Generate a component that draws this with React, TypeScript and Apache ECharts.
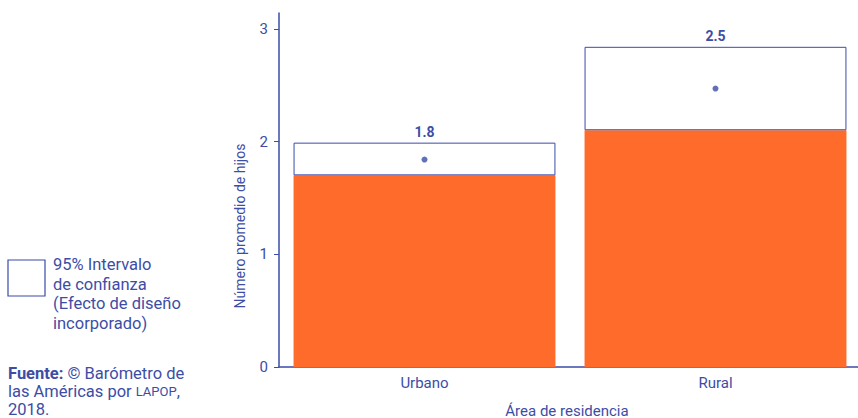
import React, { useEffect, useRef } from "react";
import * as echarts from "echarts";

const categories = ["Urbano", "Rural"];
const ciLower = [1.7, 2.1];
const ciUpper = [1.99, 2.84];
const means = [1.84, 2.47];
const meanLabels = ["1.8", "2.5"];
const yTicks = [0, 1, 2, 3];

const BLUE = "#3b4ba8";
const TEXT = "#3d4da6";
const ORANGE = "#ff6b2b";
const FONT = "Roboto";

export default function App() {
  const ref = useRef<HTMLDivElement>(null);
  useEffect(() => {
    if (!ref.current) return;
    const chart = echarts.init(ref.current, undefined, { renderer: "svg" });
    const ciSpan = ciUpper.map((u, i) => +(u - ciLower[i]).toFixed(3));
    chart.setOption({
      animation: false,
      textStyle: { fontFamily: FONT },
      grid: {
        left: 279,
        right: -3,
        top: 13,
        bottom: 51,
        containLabel: false,
        outerBoundsMode: "none",
      },
      xAxis: {
        type: "category",
        data: categories,
        name: "Área de residencia",
        nameLocation: "middle",
        nameGap: 36,
        nameTextStyle: { color: TEXT, fontSize: 15, fontFamily: FONT, padding: [0, 6, 0, 0] },
        axisLine: { lineStyle: { color: BLUE, width: 1.5 } },
        axisTick: { alignWithLabel: true, length: 5, lineStyle: { color: BLUE } },
        axisLabel: { color: TEXT, fontSize: 15, margin: 8, fontFamily: FONT },
      },
      yAxis: {
        type: "value",
        min: 0,
        max: 3.14,
        interval: 1,
        splitLine: { show: false },
        axisLine: { show: true, lineStyle: { color: BLUE, width: 1.5 } },
        axisTick: { show: true, length: 5, customValues: yTicks, lineStyle: { color: BLUE } },
        axisLabel: { color: TEXT, fontSize: 15, margin: 11, customValues: yTicks, fontFamily: FONT },
      },
      series: [
        {
          type: "bar",
          stack: "ci",
          data: ciLower,
          barWidth: "90%",
          itemStyle: { color: ORANGE },
        },
        {
          type: "bar",
          stack: "ci",
          data: ciSpan,
          barWidth: "90%",
          itemStyle: { color: "#ffffff", borderColor: BLUE, borderWidth: 1 },
          label: {
            show: true,
            position: "top",
            distance: 4,
            color: TEXT,
            fontSize: 14,
            fontWeight: "bold",
            fontFamily: FONT,
            formatter: (p: any) => meanLabels[p.dataIndex],
          },
        },
        {
          type: "scatter",
          data: means,
          symbolSize: 6,
          itemStyle: { color: BLUE },
          z: 5,
        },
      ],
      graphic: [
        {
          type: "text",
          x: 240,
          y: 226,
          rotation: Math.PI / 2,
          style: {
            text: "Número promedio de hijos",
            fill: TEXT,
            fontSize: 14,
            fontFamily: FONT,
            align: "center",
            verticalAlign: "middle",
          },
        },
        {
          type: "rect",
          shape: { x: 8, y: 260, width: 37, height: 36 },
          style: { fill: "#ffffff", stroke: BLUE, lineWidth: 1.2 },
        },
        {
          type: "text",
          x: 53,
          y: 255,
          style: {
            text: "95% Intervalo\nde confianza\n(Efecto de diseño\nincorporado)",
            fill: TEXT,
            fontSize: 16.5,
            lineHeight: 19.5,
            fontFamily: FONT,
          },
        },
        {
          type: "text",
          x: 8,
          y: 364,
          style: {
            text: "{b|Fuente:} © Barómetro de\nlas Américas por {s|LAPOP},\n2018.",
            fill: TEXT,
            fontSize: 16.5,
            lineHeight: 18,
            fontFamily: FONT,
            rich: {
              b: { fontWeight: "bold", fontSize: 16.5, fill: TEXT, fontFamily: FONT, lineHeight: 18 },
              s: { fontSize: 13, fill: TEXT, fontFamily: FONT, lineHeight: 18 },
            },
          },
        },
      ],
    });
    return () => chart.dispose();
  }, []);
  return (
    <div
      ref={ref}
      style={{ position: "fixed", left: 0, top: 0, width: 858, height: 418, background: "#fff" }}
    />
  );
}
